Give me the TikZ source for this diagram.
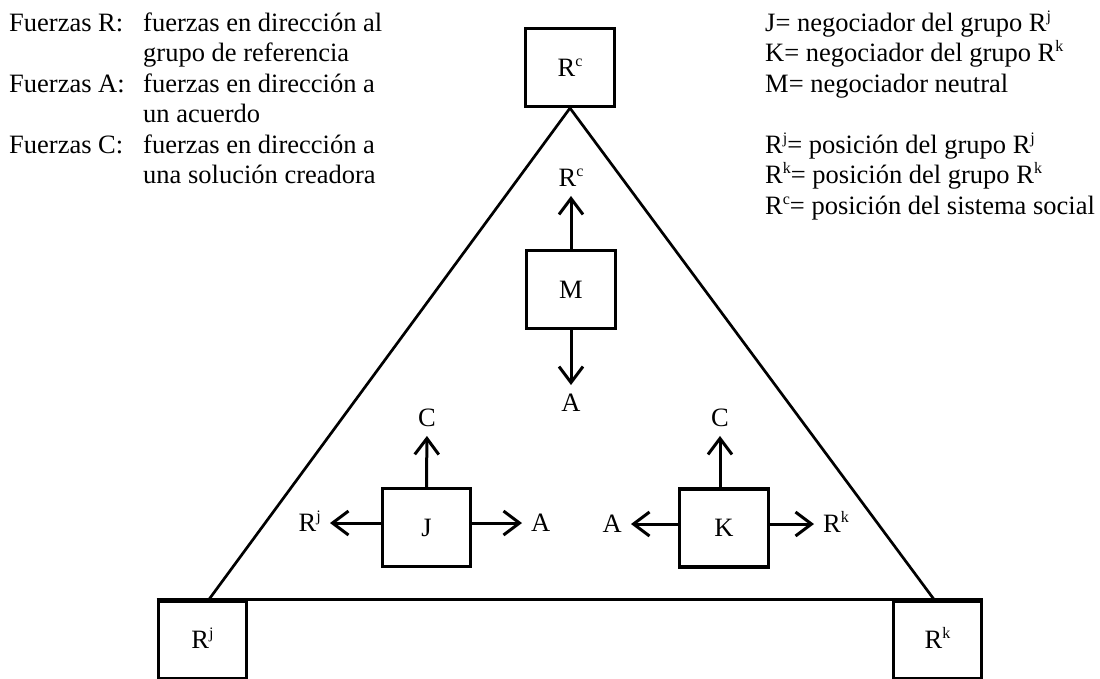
\documentclass[tikz,border=0pt]{standalone}
\usepackage{fontspec}
\setmainfont{Liberation Serif}
\usetikzlibrary{arrows.meta}
\newcommand\bigtxt{\fontsize{26.5pt}{30.5pt}\selectfont}
\newcommand\myup[1]{\raisebox{10pt}{\fontsize{16pt}{16pt}\selectfont #1}}
\begin{document}
\begin{tikzpicture}[x=1pt,y=-1pt,font=\bigtxt,
  box/.style={draw,line width=3.2pt,minimum width=88.5pt,minimum height=78pt,inner sep=0pt,text height=17.5pt,text depth=0pt},
  lbl/.style={inner sep=0pt,text height=17.5pt,text depth=0pt},
  arr/.style={line width=3pt,-{Straight Barb[length=16pt,width=24pt]},shorten >=9pt},
  tri/.style={line width=2.7pt},
  txt/.style={inner sep=0pt,anchor=base west}]
\useasboundingbox (0,0) rectangle (1100,678);
% boxes
\node[box] (Rc) at (570,67.5) {R\myup{c}};
\node[box] (M) at (571,289.5) {M};
\node[box] (J) at (426.5,527.5) {J};
\node[box] (K) at (724,528) {K};
\node[box] (Rj) at (202.5,640) {R\myup{j}};
\node[box] (Rk) at (937.5,640) {R\myup{k}};
% triangle
\coordinate (bl) at ([xshift=6.5pt]Rj.north);
\coordinate (br) at ([xshift=-3.5pt]Rk.north);
\draw[tri] (bl) -- (Rc.south) -- (br);
\draw[line width=3.2pt] (Rj.north west) -- (Rk.north east);
% labels
\node[lbl] (McL) at (571,178) {R\myup{c}};
\node[lbl] (MaL) at (571,403) {A};
\node[lbl] (JcL) at (427,418) {C};
\node[lbl,anchor=east] (JrL) at (321,523) {R\myup{j}};
\node[lbl,anchor=west] (JaL) at (531,523) {A};
\node[lbl] (KcL) at (720,418) {C};
\node[lbl,anchor=east] (KaL) at (622,524) {A};
\node[lbl,anchor=west] (KrL) at (823,524) {R\myup{k}};
% arrows
\draw[arr] (M.north) -- (McL.south);
\draw[arr] (M.south) -- (MaL.north);
\draw[arr] (J.north) -- (JcL.south);
\draw[arr] ([yshift=4.5pt]J.west) -- (JrL.east);
\draw[arr] ([yshift=4.5pt]J.east) -- (JaL.west);
\draw[arr] ([xshift=-4pt]K.north) -- (KcL.south);
\draw[arr] ([yshift=4pt]K.west) -- (KaL.east);
\draw[arr] ([yshift=4pt]K.east) -- (KrL.west);
% left legend
\node[txt] (l1a) at (9,31) {Fuerzas R:};
\node[txt] (l1b) at (143,31) {fuerzas en dirección al};
\node[txt] (l2b) at (143,61.5) {grupo de referencia};
\node[txt] (l3a) at (9,92) {Fuerzas A:};
\node[txt] (l3b) at (143,92) {fuerzas en dirección a};
\node[txt] (l4b) at (143,122.5) {un acuerdo};
\node[txt] (l5a) at (9,153) {Fuerzas C:};
\node[txt] (l5b) at (143,153) {fuerzas en dirección a};
\node[txt] (l6b) at (143,183.5) {una solución creadora};
% right legend
\node[txt] (r1) at (765,31) {J= negociador del grupo R\myup{j}};
\node[txt] (r2) at (765,61.5) {K= negociador del grupo R\myup{k}};
\node[txt] (r3) at (765,92) {M= negociador neutral};
\node[txt] (r4) at (765,153) {R\myup{j}= posición del grupo R\myup{j}};
\node[txt] (r5) at (765,183.5) {R\myup{k}= posición del grupo R\myup{k}};
\node[txt] (r6) at (765,214) {R\myup{c}= posición del sistema social};
\end{tikzpicture}
\end{document}
